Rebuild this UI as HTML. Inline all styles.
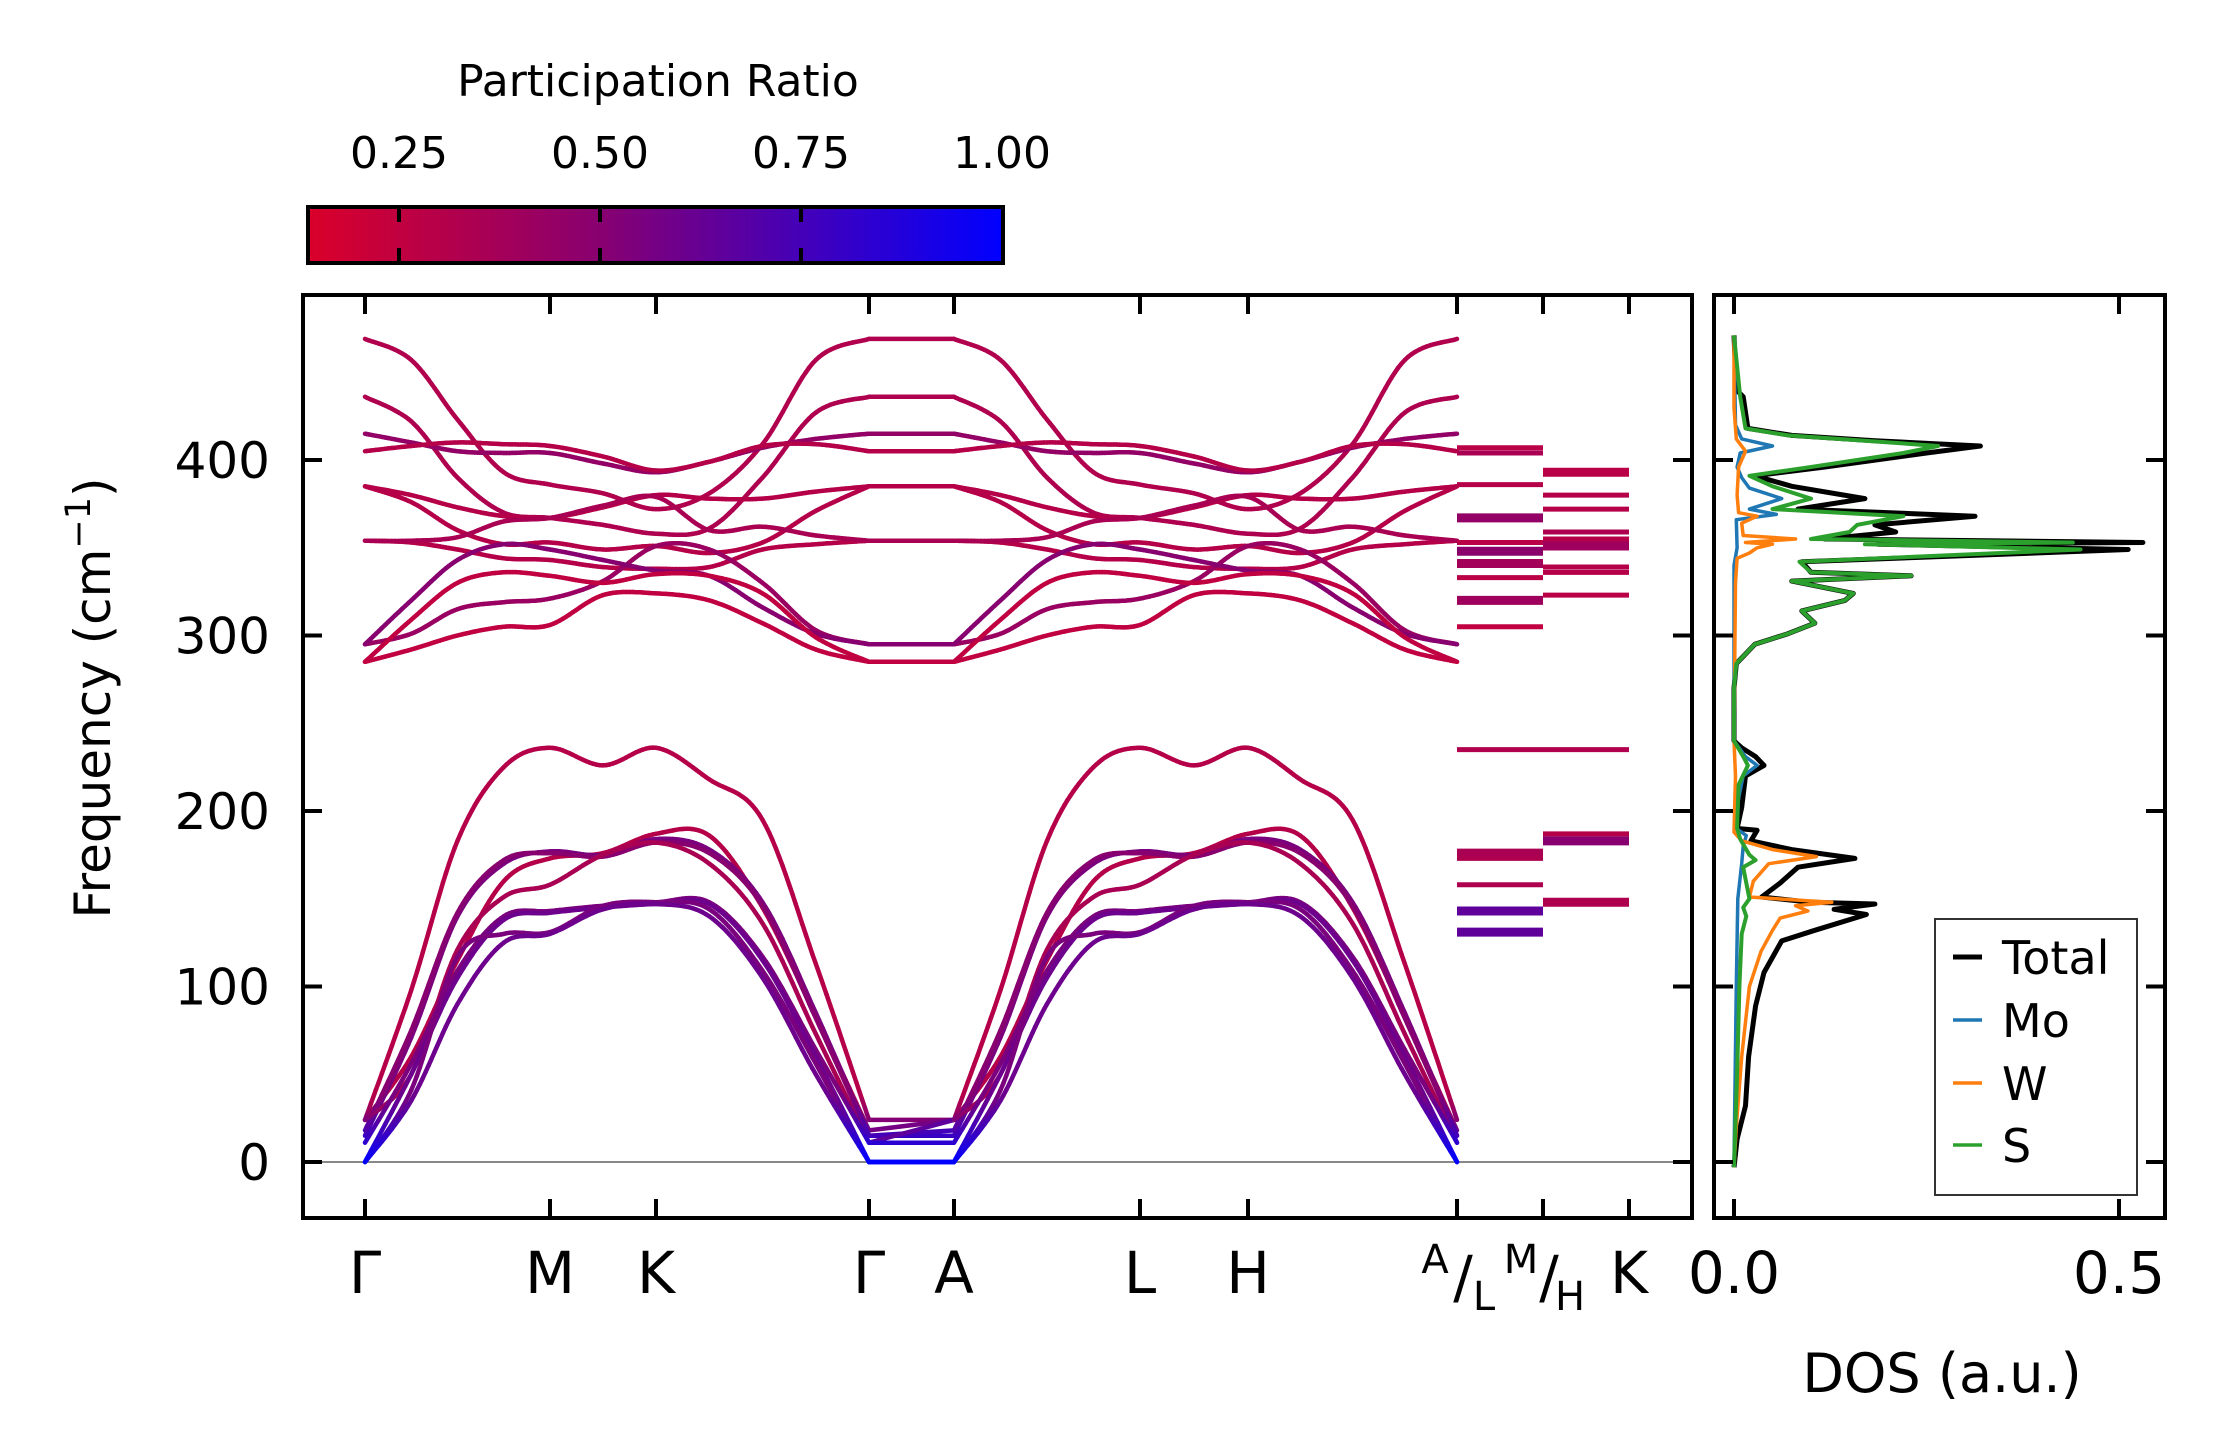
<!DOCTYPE html>
<html><head><meta charset="utf-8"><title>Phonon bands and DOS</title>
<style>
html,body{margin:0;padding:0;background:#fff;}
svg{display:block;font-family:"DejaVu Sans","Liberation Sans",sans-serif;}
</style></head>
<body>
<svg id="fig" width="2223" height="1455" viewBox="0 0 2223 1455" xmlns="http://www.w3.org/2000/svg">
  <defs>
    <linearGradient id="cbgrad" x1="0" x2="1" y1="0" y2="0">
      <stop offset="0" stop-color="rgb(218,0,42)"/>
      <stop offset="0.42" stop-color="rgb(136,0,112)"/>
      <stop offset="1" stop-color="rgb(0,0,255)"/>
    </linearGradient>
    <clipPath id="clipMain"><rect x="303" y="295" width="1389" height="923"/></clipPath>
    <clipPath id="clipDos"><rect x="1714" y="295" width="451" height="923"/></clipPath>
  </defs>
  <g id="colorbar">
    <text x="658" y="96" font-size="44" text-anchor="middle">Participation Ratio</text>
    <rect x="308" y="207" width="695" height="56" fill="url(#cbgrad)" stroke="#000" stroke-width="4"/>
  </g>
  <g id="bands" clip-path="url(#clipMain)"></g>
  <g id="dos" clip-path="url(#clipDos)"></g>
  <g id="axes"></g>
  <g id="legend"></g>
</svg>
<script>
// ---------- data ----------
const cbTicks = [0.25, 0.50, 0.75, 1.00];
const cbTickLabels = ["0.25", "0.50", "0.75", "1.00"];
const yTicks = [0, 100, 200, 300, 400];
const kLabels = ["Γ", "M", "K", "Γ", "A", "L", "H"];
const dosTicks = [0.0, 0.5];
const dosTickLabels = ["0.0", "0.5"];
// band samples: Γ, .25, .5, .75, M, mid(M-K), K, .25, .5, .75, Γ (also reused for A-L-H-A)
const lowerBands = [
  [24,98,183,225,236,226,236,218,195,113,24],
  [24,60,115,160,173,176,187,186,145,83,18],
  [15,71,140,170,177,175,184,178,148,85,15],
  [18,75,142,172,176,174,182,176,146,82,15],
  [24,50,121,151,158,175,182,170,136,73,11],
  [11,56,109,140,143,146,148,148,117,64,11],
  [0,50,105,138,142,145,147,147,115,60,0],
  [0,41,117,130,131,146,148,144,109,56,0],
  [0,35,90,125,130,144,147,140,105,50,0]
];
const lowerPR = [0.30, 0.30, 0.55, 0.50, 0.35, 0.55, 0.60, 0.55, 0.60];
const upperBands = [
  [469,457,423,393,386,381,372,381,409,457,469],
  [436,422,390,370,367,363,358,361,390,427,436],
  [415,410,405,404,404,398,393,399,407,412,415],
  [405,408,410,409,408,402,394,399,408,409,405],
  [385,380,373,368,367,373,380,378,378,382,385],
  [385,376,360,352,353,349,351,347,353,371,385],
  [354,353,349,344,343,339,338,339,349,352,354],
  [354,354,356,365,367,374,379,360,362,357,354],
  [295,301,315,319,321,331,351,349,330,303,295],
  [295,320,343,352,349,343,337,334,316,301,295],
  [285,309,330,336,334,330,335,334,324,299,285],
  [285,292,300,305,306,323,324,320,307,292,285]
];
const upperPR = [0.32, 0.33, 0.45, 0.30, 0.30, 0.30, 0.30, 0.35, 0.42, 0.50, 0.25, 0.25];
const mFlat = [407,404,386,367,353,348,341,333,320,305,235,176,173,158,143,131];
const mFlatPR = [0.28,0.35,0.30,0.45,0.28,0.48,0.38,0.28,0.40,0.25,0.32,0.35,0.33,0.33,0.65,0.65];
const mFlatDeg = [1,1,1,2,1,2,2,1,2,1,1,2,1,1,2,2];
const kFlat = [393,380,372,359,355,351,339,336,323,235,187,183,148];
const kFlatPR = [0.28,0.30,0.30,0.33,0.30,0.40,0.30,0.30,0.28,0.32,0.30,0.50,0.33];
const kFlatDeg = [2,1,1,1,1,2,1,1,1,1,1,2,2];
const dosTotalFreq = [471,440,436,418,414,411,408,404,396,391,385,378,372,368,363,359,355,353,352,349,342,336,334,331,324,320,314,307,301,295,284,270,240,236,231,226,220,202,190,189,183,178,173,168,159,151,148,147,144,141,132,126,108,89,60,32,13,-3];
const dosTotalVal = [0,0.003,0.012,0.018,0.075,0.183,0.32,0.25,0.118,0.027,0.075,0.17,0.083,0.313,0.183,0.21,0.118,0.531,0.187,0.512,0.088,0.1,0.23,0.075,0.155,0.144,0.088,0.105,0.07,0.027,0.003,0,0,0.01,0.028,0.039,0.015,0.01,0.004,0.03,0.022,0.075,0.157,0.083,0.06,0.036,0.1,0.183,0.13,0.172,0.105,0.062,0.039,0.028,0.019,0.015,0.004,0];
const dosMoFreq = [471,420,412,408,404,396,390,384,378,372,369,366,350,340,240,231,226,220,205,190,186,180,170,150,100,0,-3];
const dosMoVal = [0,0.002,0.01,0.05,0.008,0.004,0.01,0.02,0.062,0.02,0.055,0.003,0.004,0,0,0.015,0.03,0.012,0.005,0.003,0.016,0.012,0.01,0.005,0.003,0,0];
const dosWFreq = [471,430,412,405,396,380,370,368,364,357,355,353,352,350,347,344,330,240,220,188,183,178,174,170,160,151,148,146,143,139,132,120,100,60,20,-3];
const dosWVal = [0,0,0.003,0.015,0.006,0.004,0.006,0.03,0.01,0.012,0.08,0.015,0.05,0.03,0.02,0.004,0.002,0,0.002,0,0.01,0.05,0.107,0.045,0.025,0.02,0.127,0.08,0.096,0.06,0.05,0.035,0.02,0.01,0.003,0];
const dosSFreq = [471,436,418,414,411,408,404,396,391,385,378,372,368,363,359,355,353,352,349,342,336,334,331,324,320,314,307,301,295,284,270,240,231,226,215,190,184,175,172,168,150,145,140,130,100,50,-3];
const dosSVal = [0,0.008,0.015,0.07,0.17,0.265,0.22,0.1,0.02,0.05,0.1,0.05,0.22,0.16,0.15,0.1,0.44,0.17,0.45,0.085,0.1,0.23,0.075,0.155,0.144,0.088,0.105,0.07,0.027,0.003,0,0,0.012,0.018,0.006,0.004,0.008,0.02,0.028,0.012,0.02,0.012,0.016,0.01,0.007,0.004,0];
const legendLabels = ["Total", "Mo", "W", "S"];
const legendColors = ["#000000", "#1f77b4", "#ff7f0e", "#2ca02c"];

// ---------- geometry ----------
const NS = "http://www.w3.org/2000/svg";
const PL = 303, PR_ = 1692, PT = 295, PB = 1218;
const DL = 1714, DR = 2165;
const kX = [365, 550, 656, 869, 954, 1140, 1248, 1457, 1543, 1629];
function yF(f){ return 1162 - f * 1.755; }
function xD(d){ return 1734 + d * 770; }
function xCB(v){ return 399 + (v - 0.25) * 804; }
function cmap(pr){
  let t = (pr - 0.137) / 0.863; t = Math.max(0, Math.min(1, t));
  let a, b, u;
  if (t < 0.42){ a=[218,0,42]; b=[136,0,112]; u=t/0.42; } else { a=[136,0,112]; b=[0,0,255]; u=(t-0.42)/0.58; }
  return `rgb(${Math.round(a[0]+(b[0]-a[0])*u)},0,${Math.round(a[2]+(b[2]-a[2])*u)})`;
}
function mk(tag, attrs, parent){
  const el = document.createElementNS(NS, tag);
  for (const k in attrs) el.setAttribute(k, attrs[k]);
  parent.appendChild(el); return el;
}
function fracXs(x0, x1, n){ const r=[]; for(let i=0;i<n;i++) r.push(x0+(x1-x0)*i/(n-1)); return r; }
function halfXs(a, b, c, d){
  return fracXs(a, b, 5).concat([(b+c)/2, c]).concat(fracXs(c, d, 5).slice(1));
}
const xsFirst = halfXs(kX[0], kX[1], kX[2], kX[3]);
const xsSecond = halfXs(kX[4], kX[5], kX[6], kX[7]);

function catmull(xs, vs, steps){
  const pts = [];
  const n = xs.length;
  for (let i=0;i<n-1;i++){
    const p0=[xs[Math.max(0,i-1)], vs[Math.max(0,i-1)]], p1=[xs[i],vs[i]], p2=[xs[i+1],vs[i+1]], p3=[xs[Math.min(n-1,i+2)], vs[Math.min(n-1,i+2)]];
    for (let s=0;s<steps;s++){
      const t=s/steps, t2=t*t, t3=t2*t;
      const f = k => 0.5*((2*p1[k])+(-p0[k]+p2[k])*t+(2*p0[k]-5*p1[k]+4*p2[k]-p3[k])*t2+(-p0[k]+3*p1[k]-3*p2[k]+p3[k])*t3);
      pts.push([f(0), f(1)]);
    }
  }
  pts.push([xs[n-1], vs[n-1]]);
  return pts;
}
function effPR(pr, f){ if (f < 40){ const w = Math.pow(1 - Math.max(f,0)/40, 1.3); return pr + (1-pr)*w; } return pr; }

const gB = document.getElementById('bands');
function drawBand(vals, pr, idx, kind){
  const g = mk('g', {}, gB);
  
  
  const pts1 = catmull(xsFirst, vals, 16);
  const pts2 = catmull(xsSecond, vals, 16);
  const flatPts = [[kX[3], vals[vals.length-1]], [kX[4], vals[0]]];
  [pts1, flatPts, pts2].forEach(pts => {
    for (let i=0;i<pts.length-1;i++){
      const fm = (pts[i][1]+pts[i+1][1])/2;
      const ln = mk('line', {x1:pts[i][0].toFixed(1), y1:yF(pts[i][1]).toFixed(1), x2:pts[i+1][0].toFixed(1), y2:yF(pts[i+1][1]).toFixed(1), stroke:cmap(effPR(pr, fm)), 'stroke-width':4.5, 'stroke-linecap':'round'}, g);
      
      
    }
  });
}
const zl = mk('line', {x1:PL, x2:PR_, y1:yF(0), y2:yF(0), stroke:'#888', 'stroke-width':2}, gB);


upperBands.forEach((b,i)=>drawBand(b, upperPR[i], i, 'optical'));
lowerBands.forEach((b,i)=>drawBand(b, lowerPR[i], i, 'low'));
mFlat.forEach((f,i)=>{
  const l = mk('line', {x1:kX[7], x2:kX[8], y1:yF(f), y2:yF(f), stroke:cmap(mFlatPR[i]), 'stroke-width': mFlatDeg[i]===2 ? 9 : 5}, gB);
  
  
});
kFlat.forEach((f,i)=>{
  const l = mk('line', {x1:kX[8], x2:kX[9], y1:yF(f), y2:yF(f), stroke:cmap(kFlatPR[i]), 'stroke-width': kFlatDeg[i]===2 ? 9 : 5}, gB);
  
  
});

// DOS
const gD = document.getElementById('dos');
function drawDos(fr, vals, color, w, name){
  const p = fr.map((f,i)=>xD(vals[i]).toFixed(1)+','+yF(f).toFixed(1)).join(' ');
  const pl = mk('polyline', {points:p, fill:'none', stroke:color, 'stroke-width':w, 'stroke-linejoin':'round'}, gD);
  
  
}
drawDos(dosTotalFreq, dosTotalVal, legendColors[0], 5, 'dos-total');
drawDos(dosMoFreq, dosMoVal, legendColors[1], 3.5, 'dos-mo');
drawDos(dosWFreq, dosWVal, legendColors[2], 3.5, 'dos-w');
drawDos(dosSFreq, dosSVal, legendColors[3], 4, 'dos-s');

// axes
const gA = document.getElementById('axes');
const fr1 = mk('rect', {x:PL, y:PT, width:PR_-PL, height:PB-PT, fill:'none', stroke:'#000', 'stroke-width':4}, gA);


const fr2 = mk('rect', {x:DL, y:PT, width:DR-DL, height:PB-PT, fill:'none', stroke:'#000', 'stroke-width':4}, gA);


const TL = 19;
yTicks.forEach(v=>{
  const y = yF(v);
  [[PL, PL+TL],[PR_-TL, PR_],[DL, DL+TL],[DR-TL, DR]].forEach(s=>{
    const t = mk('line', {x1:s[0], x2:s[1], y1:y, y2:y, stroke:'#000', 'stroke-width':4}, gA);
    
    
  });
  const tx = mk('text', {x:270, y:y+18, 'font-size':50, 'text-anchor':'end'}, gA);
  tx.textContent = String(v);
  
  
});
kX.forEach(x=>{
  [[PB-TL, PB],[PT, PT+TL]].forEach(s=>{
    const t = mk('line', {x1:x, x2:x, y1:s[0], y2:s[1], stroke:'#000', 'stroke-width':4}, gA);
    
    
  });
});
kLabels.forEach((lab,i)=>{
  const t = mk('text', {x:kX[i], y:1293, 'font-size':58, 'text-anchor':'middle'}, gA);
  t.textContent = lab;
  
  
});
function fracLabel(cx, sup, sub, name){
  const g = mk('g', {}, gA);
  
  
  const a = mk('text', {x:cx-22, y:1273, 'font-size':40, 'text-anchor':'middle'}, g); a.textContent = sup;
  const s = mk('text', {x:cx+6, y:1297, 'font-size':58, 'text-anchor':'middle'}, g); s.textContent = '/';
  const b = mk('text', {x:cx+27, y:1310, 'font-size':40, 'text-anchor':'middle'}, g); b.textContent = sub;
}
fracLabel(kX[7], 'A', 'L', 'k-label-a-l');
fracLabel(kX[8], 'M', 'H', 'k-label-m-h');
const kk = mk('text', {x:kX[9], y:1293, 'font-size':58, 'text-anchor':'middle'}, gA);
kk.textContent = 'K';


dosTicks.forEach((d,i)=>{
  const x = xD(d);
  [[PB-TL, PB],[PT, PT+TL]].forEach(s=>{
    const t = mk('line', {x1:x, x2:x, y1:s[0], y2:s[1], stroke:'#000', 'stroke-width':4}, gA);
    
    
  });
  const tx = mk('text', {x:x, y:1293, 'font-size':58, 'text-anchor':'middle'}, gA);
  tx.textContent = dosTickLabels[i];
  
  
});
const xl = mk('text', {x:1942, y:1392, 'font-size':54, 'text-anchor':'middle'}, gA);
xl.textContent = 'DOS (a.u.)';


const yl = mk('text', {x:0, y:0, 'font-size':50, 'text-anchor':'middle', transform:'translate(110,698) rotate(-90)'}, gA);
yl.innerHTML = 'Frequency (cm<tspan font-size="35" dy="-20">−1</tspan><tspan dy="20">)</tspan>';



// colorbar ticks
const gC = document.getElementById('colorbar');
cbTicks.forEach((v,i)=>{
  const x = xCB(v);
  if (v < 1){
    [[207,222],[248,263]].forEach(s=>{
      const t = mk('line', {x1:x, x2:x, y1:s[0], y2:s[1], stroke:'#000', 'stroke-width':4}, gC);
      
      
    });
  }
  const tx = mk('text', {x:x, y:168, 'font-size':44, 'text-anchor':'middle'}, gC);
  tx.textContent = cbTickLabels[i];
  
  
});

// legend
const gL = document.getElementById('legend');
const lb = mk('rect', {x:1935, y:919, width:202, height:276, fill:'#fff', stroke:'#333', 'stroke-width':2}, gL);


const legY = [957, 1020, 1083, 1145];
legendLabels.forEach((lab,i)=>{
  const l = mk('line', {x1:1953, x2:1982, y1:legY[i], y2:legY[i], stroke:legendColors[i], 'stroke-width': i===0 ? 5 : 3.5}, gL);
  
  
  const t = mk('text', {x:2002, y:legY[i]+17, 'font-size':46}, gL);
  t.textContent = lab;
  
  
});
</script>
</body></html>
